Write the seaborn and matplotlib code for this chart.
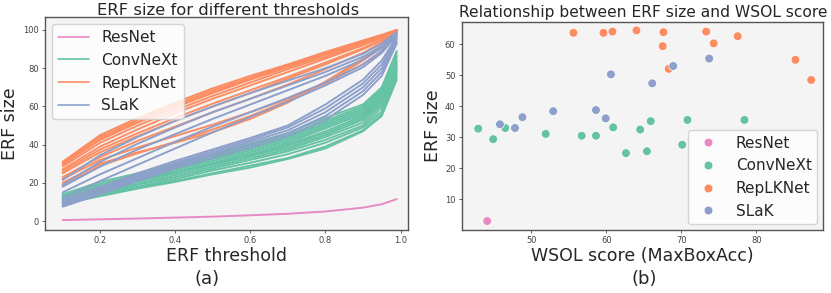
import matplotlib
matplotlib.use("Agg")
import matplotlib.pyplot as plt
import seaborn as sns
import pandas as pd

# ERF thresholds on the x axis of (a)
thresholds = [0.1, 0.2, 0.3, 0.4, 0.5, 0.6, 0.7, 0.8, 0.9, 0.95, 0.99]

resnet_erf = [
    [0.5, 0.9, 1.3, 1.8, 2.3, 3.0, 3.8, 5.0, 7.0, 8.8, 11.5],
]
convnext_erf = [
    [14.0, 20.5, 25.0, 30.0, 35.0, 40.5, 46.0, 54.0, 61.0, 70.0, 89.0],
    [13.5, 19.5, 24.0, 29.0, 34.0, 39.5, 45.0, 52.5, 60.0, 69.0, 88.0],
    [13.0, 18.5, 23.5, 28.5, 33.5, 38.5, 44.0, 51.5, 59.0, 68.0, 86.5],
    [12.5, 18.0, 23.0, 28.0, 33.0, 38.0, 43.0, 50.5, 58.0, 67.0, 85.5],
    [12.0, 17.5, 22.5, 27.5, 32.5, 37.0, 42.0, 49.5, 57.0, 66.0, 84.0],
    [11.5, 17.0, 22.0, 27.0, 31.5, 36.0, 41.0, 48.5, 56.0, 65.0, 83.0],
    [11.0, 16.5, 21.5, 26.0, 30.5, 35.0, 40.0, 47.0, 55.0, 64.0, 82.0],
    [11.0, 16.0, 21.0, 25.5, 30.0, 34.5, 39.5, 46.0, 54.0, 63.0, 81.0],
    [10.5, 15.5, 20.5, 25.0, 29.5, 34.0, 38.5, 45.0, 53.0, 62.0, 80.0],
    [10.0, 15.0, 19.5, 24.0, 28.5, 33.0, 37.5, 44.0, 51.5, 61.0, 79.0],
    [10.0, 14.5, 19.0, 23.0, 27.5, 32.0, 36.5, 42.5, 50.0, 59.5, 78.0],
    [9.5, 14.0, 18.0, 22.0, 26.5, 30.5, 35.0, 41.0, 49.0, 57.5, 76.5],
    [9.0, 13.5, 17.5, 21.0, 25.0, 29.0, 33.0, 39.0, 47.5, 56.0, 75.0],
    [9.0, 13.0, 17.0, 20.5, 24.5, 28.0, 32.5, 38.0, 47.0, 55.0, 74.0],
]
replk_erf = [
    [31.0, 45.0, 54.0, 62.0, 69.5, 76.0, 82.0, 88.5, 94.5, 97.5, 100.0],
    [30.5, 44.0, 53.0, 61.0, 68.5, 75.0, 81.5, 88.0, 94.0, 97.0, 100.0],
    [30.0, 43.0, 52.0, 60.0, 67.5, 74.5, 81.0, 87.5, 93.5, 97.0, 100.0],
    [29.5, 42.5, 51.5, 59.5, 67.0, 74.0, 80.5, 87.0, 93.0, 96.5, 100.0],
    [28.5, 41.0, 50.0, 58.0, 65.5, 72.5, 79.5, 86.0, 92.5, 96.0, 100.0],
    [27.0, 39.0, 48.0, 56.5, 64.0, 71.0, 78.0, 85.0, 92.0, 96.0, 100.0],
    [26.0, 37.5, 46.0, 54.0, 61.5, 68.5, 75.5, 83.0, 90.5, 95.0, 100.0],
    [25.0, 36.0, 44.5, 52.5, 60.0, 67.0, 74.5, 82.0, 90.0, 94.5, 99.5],
    [23.0, 33.5, 42.0, 49.5, 57.0, 64.0, 71.5, 79.5, 88.0, 93.5, 99.5],
    [22.0, 32.0, 38.5, 44.5, 50.5, 57.0, 64.0, 72.0, 82.0, 89.0, 99.0],
    [20.0, 30.0, 36.0, 41.0, 46.5, 53.5, 62.0, 73.0, 85.0, 92.0, 99.0],
    [18.5, 29.0, 35.5, 41.5, 48.0, 55.0, 63.0, 72.5, 84.0, 91.0, 99.0],
]
slak_erf = [
    [21.5, 34.5, 44.0, 52.5, 60.0, 67.0, 73.5, 80.0, 87.5, 93.0, 99.0],
    [19.0, 31.0, 40.5, 49.0, 57.0, 64.0, 71.0, 78.0, 86.0, 91.5, 98.5],
    [18.0, 28.5, 37.5, 45.5, 53.5, 61.0, 68.5, 76.0, 84.5, 90.5, 98.0],
    [15.0, 24.5, 33.0, 41.5, 49.5, 57.0, 64.5, 72.5, 82.0, 89.0, 97.5],
    [12.0, 21.0, 29.5, 38.0, 46.5, 54.5, 62.5, 71.0, 80.5, 88.0, 97.0],
    [11.0, 18.0, 25.0, 31.5, 37.5, 43.5, 50.0, 61.0, 74.0, 84.0, 96.5],
    [10.0, 17.0, 24.0, 30.5, 36.5, 42.5, 49.0, 59.0, 72.0, 82.0, 96.0],
    [9.0, 16.0, 23.0, 29.5, 35.5, 41.5, 47.5, 57.0, 70.0, 80.0, 95.0],
    [8.0, 15.0, 22.0, 28.5, 34.5, 40.0, 46.0, 55.0, 68.0, 78.0, 94.0],
    [7.5, 14.0, 21.0, 27.5, 33.0, 38.5, 44.5, 53.0, 66.0, 76.0, 93.0],
]

# WSOL score vs ERF size for (b)
resnet_wsol = [44.1]
resnet_size = [3.0]
convnext_wsol = [42.9, 44.9, 46.5, 51.9, 56.7, 58.6, 60.9, 62.6, 64.5, 65.4, 65.9, 70.1, 70.8, 78.4]
convnext_size = [32.8, 29.4, 33.0, 31.1, 30.5, 30.5, 33.2, 24.9, 32.5, 25.5, 35.2, 27.6, 35.6, 35.6]
replk_wsol = [55.6, 59.6, 60.8, 64.0, 67.6, 67.5, 68.3, 73.3, 74.3, 77.5, 85.2, 87.3]
replk_size = [63.7, 63.7, 64.1, 64.5, 63.9, 59.4, 52.1, 64.1, 60.3, 62.6, 55.0, 48.5]
slak_wsol = [45.8, 47.8, 48.8, 52.9, 58.6, 59.9, 60.6, 66.1, 68.9, 73.7]
slak_size = [34.2, 33.0, 36.5, 38.4, 38.8, 36.1, 50.3, 47.4, 53.0, 55.4]

models = ["ResNet", "ConvNeXt", "RepLKNet", "SLaK"]
set2 = sns.color_palette("Set2")
palette = {"ResNet": set2[3], "ConvNeXt": set2[0], "RepLKNet": set2[1], "SLaK": set2[2]}

rows = []
for name, runs in zip(models, [resnet_erf, convnext_erf, replk_erf, slak_erf]):
    for i, run in enumerate(runs):
        for t, v in zip(thresholds, run):
            rows.append({"model": name, "run": f"{name}{i}", "threshold": t, "erf": v})
df_lines = pd.DataFrame(rows)

pts = []
for name, xs, ys in zip(models,
                        [resnet_wsol, convnext_wsol, replk_wsol, slak_wsol],
                        [resnet_size, convnext_size, replk_size, slak_size]):
    for x, y in zip(xs, ys):
        pts.append({"model": name, "wsol": x, "size": y})
df_pts = pd.DataFrame(pts)

sns.set_style("ticks")
plt.rcParams["axes.edgecolor"] = "#555555"
plt.rcParams["xtick.color"] = "#444444"
plt.rcParams["ytick.color"] = "#444444"

fig = plt.figure(figsize=(8.31, 2.93), dpi=100)
ax1 = fig.add_axes([0.0542, 0.215, 0.4368, 213 / 293])
ax2 = fig.add_axes([0.5556, 0.215, 0.435, 0.71])

# (a) line plot
sns.lineplot(data=df_lines, x="threshold", y="erf", hue="model", units="run",
             estimator=None, palette=palette, hue_order=models, lw=1.4, ax=ax1)
ax1.set_xlim(0.053, 1.02)
ax1.set_ylim(-4.7, 106.8)
ax1.set_xticks([0.2, 0.4, 0.6, 0.8, 1.0])
ax1.set_yticks([0, 20, 40, 60, 80, 100])
ax1.set_xlabel("ERF threshold", fontsize=12.5, labelpad=1)
ax1.set_ylabel("ERF size", fontsize=12.5, labelpad=3)
leg1 = ax1.legend(loc="upper left", fontsize=11.1, handlelength=2.0, borderaxespad=0.45)
for h in leg1.get_lines():
    h.set_linewidth(1.2)

# (b) scatter plot
sns.scatterplot(data=df_pts, x="wsol", y="size", hue="model", palette=palette,
                hue_order=models, s=40, ax=ax2)
ax2.set_xlim(40.7, 88.9)
ax2.set_ylim(0.1, 67.2)
ax2.set_xticks([50, 60, 70, 80])
ax2.set_yticks([10, 20, 30, 40, 50, 60])
ax2.set_xlabel("WSOL score (MaxBoxAcc)", fontsize=12.5, labelpad=1)
ax2.set_ylabel("ERF size", fontsize=12.5, labelpad=2)
ax2.legend(loc="lower right", fontsize=11, borderaxespad=0.4, borderpad=0.35)

for ax in (ax1, ax2):
    ax.set_facecolor("#f4f4f4")
    ax.tick_params(labelsize=6, length=2.5, width=0.6, pad=2)
    for sp in ax.spines.values():
        sp.set_visible(True)
        sp.set_linewidth(1.0)

# titles placed by hand, the two panels were laid out separately
fig.text(228 / 831, 1 - 15 / 293, "ERF size for different thresholds",
         fontsize=11.8, ha="center", va="baseline")
fig.text(643 / 831, 1 - 16.5 / 293, "Relationship between ERF size and WSOL score",
         fontsize=11.2, ha="center", va="baseline")

fig.text(207 / 831, 1 - 279 / 293, "(a)", fontsize=13, ha="center", va="center")
fig.text(644 / 831, 1 - 279 / 293, "(b)", fontsize=13, ha="center", va="center")

fig.savefig("out.png", dpi=100)
